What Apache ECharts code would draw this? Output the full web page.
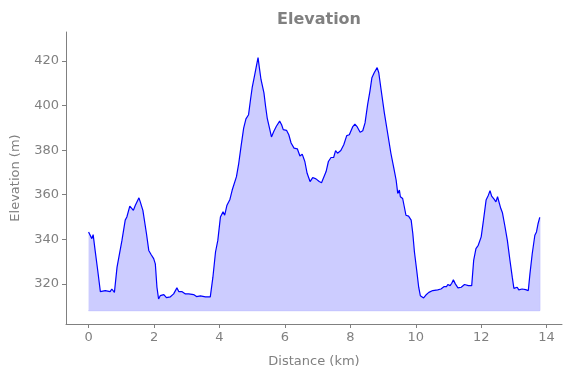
<!DOCTYPE html>
<html>
<head>
<meta charset="utf-8">
<script src="https://cdn.jsdelivr.net/npm/echarts@6/dist/echarts.min.js"></script>
<style>
  html, body { margin: 0; padding: 0; background: #fff; }
  #chart { width: 571px; height: 378px; }
</style>
</head>
<body>
<div id="chart"></div>
<script>
// distance along the route (km)
const distanceKm = [
  0, 0.05, 0.1, 0.14, 0.2, 0.28, 0.36, 0.51, 0.66, 0.71, 0.79, 0.87, 1.02, 1.12, 1.17, 1.26,
  1.3, 1.37, 1.43, 1.48, 1.54, 1.58, 1.66, 1.77, 1.84, 1.91, 1.99, 2.04, 2.09, 2.14, 2.19,
  2.3, 2.38, 2.5, 2.6, 2.7, 2.76, 2.86, 2.96, 3.06, 3.21, 3.3, 3.42, 3.57, 3.72, 3.8, 3.88,
  3.95, 4.03, 4.11, 4.16, 4.23, 4.32, 4.39, 4.44, 4.52, 4.59, 4.66, 4.74, 4.81, 4.89, 4.95,
  5.0, 5.07, 5.12, 5.15, 5.18, 5.22, 5.27, 5.36, 5.41, 5.46, 5.53, 5.59, 5.66, 5.74, 5.84,
  5.9, 5.95, 6.05, 6.12, 6.19, 6.28, 6.38, 6.46, 6.53, 6.61, 6.68, 6.77, 6.85, 6.95, 7.05,
  7.12, 7.18, 7.26, 7.33, 7.41, 7.49, 7.55, 7.61, 7.71, 7.8, 7.89, 7.97, 8.02, 8.07, 8.14,
  8.2, 8.3, 8.38, 8.45, 8.53, 8.6, 8.66, 8.73, 8.79, 8.82, 8.87, 8.94, 9.04, 9.14, 9.24,
  9.33, 9.4, 9.45, 9.5, 9.53, 9.6, 9.65, 9.7, 9.78, 9.86, 9.91, 9.96, 10.03, 10.09, 10.14,
  10.24, 10.31, 10.4, 10.52, 10.67, 10.77, 10.87, 10.94, 10.98, 11.05, 11.1, 11.15, 11.21,
  11.29, 11.39, 11.49, 11.54, 11.61, 11.71, 11.77, 11.84, 11.91, 12.0, 12.07, 12.15, 12.22,
  12.27, 12.32, 12.4, 12.45, 12.5, 12.55, 12.6, 12.65, 12.72, 12.8, 12.88, 12.95, 13.0,
  13.05, 13.1, 13.15, 13.25, 13.36, 13.44, 13.49, 13.56, 13.64, 13.69, 13.74, 13.79
];

// elevation at each point (m)
const elevationM = [
  343.3, 343.3, 340.3, 342.1, 335, 326, 316.5, 317, 316.5, 317.7, 316.2, 327.5, 339.5, 348.6, 350, 354.9,
  355, 353, 355.3, 356, 358.6, 356.8, 353, 342.5, 335, 333.2, 331.3, 329, 318.5, 313.2, 314.7,
  315.2, 313.8, 314.2, 315.5, 318.2, 316.5, 316.5, 315.5, 315.5, 315.2, 314.3, 314.6, 314.2, 314.2, 323, 334.3,
  339.5, 350, 352.3, 350.8, 355.3, 357.9, 362.1, 362.4, 368.1, 374.1, 381.7, 389.9, 394, 395.9, 402.7,
  408, 413.2, 417, 416.2, 421.5, 417, 411.7, 405.7, 399.7, 394.4, 389.9, 385.9, 388.4, 390.7, 393,
  391.4, 389.2, 388.9, 386.9, 383.2, 380.9, 380.6, 377.4, 378.2, 374.9, 369.6, 365.9, 367.7, 367.1, 365.9,
  365.4, 365.9, 370.4, 374.9, 376.7, 376.7, 379.8, 378.6, 379.8, 382.4, 386.5, 386.9, 386.9, 390.4, 391.7,
  390.7, 388, 388.7, 392.2, 400.5, 406.5, 412.5, 414.7, 415.5, 417, 414.7, 407.2, 396.7, 387.7, 378.6,
  371.9, 366.6, 360.6, 362.1, 359.1, 358.3, 354.6, 350.8, 350.4, 348.6, 342.6, 334.3, 326, 318.5, 314.7,
  313.7, 315, 316.2, 317, 317.3, 317.7, 318.8, 318.8, 319.7, 319.2, 320.3, 321.8, 320,
  318.2, 318.5, 319.7, 320, 319.2, 319.2, 330.5, 335.8, 337.3, 341.1, 348.6, 357.6, 359.8,
  361.8, 359.4, 357.9, 356.8, 359.1, 358.3, 353.8, 351.9, 346.3, 339.5, 330.5, 323, 318,
  317.7, 318.5, 317.3, 317.7, 317.4, 317, 324.5, 333.5, 341.8, 343.3, 347.1, 349.8
];

const xTicks = [0, 2, 4, 6, 8, 10, 12, 14];
const yTicks = [320, 340, 360, 380, 400, 420];
const fillBase = 308;

const points = distanceKm.map((d, i) => [d, elevationM[i]]);
const last = distanceKm.length - 1;
// outline of the filled area (bottom and right edge)
const fillEdge = [
  [distanceKm[0], fillBase],
  [distanceKm[last], fillBase],
  [distanceKm[last], elevationM[last]]
];

const gray = "#808080";
const font = "DejaVu Sans";

const myChart = echarts.init(document.getElementById("chart"), null, { renderer: "canvas" });
myChart.setOption({
  animation: false,
  backgroundColor: "#fff",
  title: {
    text: "Elevation",
    left: 314,
    textAlign: "center",
    top: 7,
    textStyle: { color: gray, fontFamily: font, fontSize: 16, fontWeight: "bold" }
  },
  grid: { left: 66, right: 9, top: 32, bottom: 54, containLabel: false },
  xAxis: {
    type: "value",
    min: -0.69,
    max: 14.47,
    name: "Distance (km)",
    nameLocation: "middle",
    nameGap: 31,
    nameTextStyle: { color: gray, fontFamily: font, fontSize: 13 },
    splitLine: { show: false },
    axisLine: { show: true, onZero: false, lineStyle: { color: gray, width: 1 } },
    axisTick: { show: true, length: 4, customValues: xTicks, lineStyle: { color: gray } },
    axisLabel: { customValues: xTicks, color: gray, fontFamily: font, fontSize: 13, margin: 7 }
  },
  yAxis: {
    type: "value",
    min: 302,
    max: 433,
    name: "Elevation (m)",
    nameLocation: "middle",
    nameGap: 44,
    nameTextStyle: { color: gray, fontFamily: font, fontSize: 13 },
    splitLine: { show: false },
    axisLine: { show: true, onZero: false, lineStyle: { color: gray, width: 1 } },
    axisTick: { show: true, length: 4, customValues: yTicks, lineStyle: { color: gray } },
    axisLabel: { customValues: yTicks, color: gray, fontFamily: font, fontSize: 13, margin: 7 }
  },
  series: [
    {
      type: "line",
      data: points,
      showSymbol: false,
      smooth: false,
      z: 3,
      lineStyle: { color: "#0000ff", width: 1.2 },
      areaStyle: { color: "#ccccff", opacity: 1, origin: fillBase }
    },
    {
      type: "line",
      data: fillEdge,
      showSymbol: false,
      silent: true,
      z: 2,
      lineStyle: { color: "#aaaaff", width: 1 }
    }
  ]
});
</script>
</body>
</html>
